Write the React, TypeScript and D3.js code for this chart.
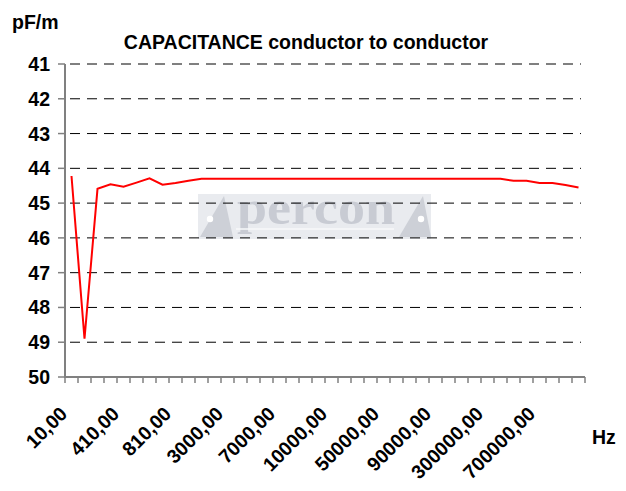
import React from "react";
import * as d3 from "d3";

// Frequency categories (Hz)
const frequencyHz = [
  10, 110, 210, 310, 410, 510, 610, 710, 810, 910,
  1000, 2000, 3000, 4000, 5000, 6000, 7000, 8000, 9000, 10000,
  10000, 20000, 30000, 40000, 50000, 60000, 70000, 80000, 90000, 100000,
  100000, 200000, 300000, 400000, 500000, 600000, 700000, 800000, 900000, 1000000,
];

// Capacitance conductor to conductor (pF/m)
const capacitancePFm = [
  44.22, 48.9, 44.59, 44.46, 44.53, 44.41, 44.29, 44.47, 44.42, 44.36,
  44.3, 44.3, 44.3, 44.3, 44.3, 44.3, 44.3, 44.3, 44.3, 44.3,
  44.3, 44.3, 44.3, 44.3, 44.3, 44.3, 44.3, 44.3, 44.3, 44.3,
  44.3, 44.3, 44.3, 44.3, 44.36, 44.36, 44.42, 44.42, 44.48, 44.55,
];

const yTickValues = [41, 42, 43, 44, 45, 46, 47, 48, 49, 50];
const xLabelEvery = 4;

const W = 626;
const H = 491;
const FONT = "'Liberation Sans', Arial, Helvetica, sans-serif";

export default function App() {
  const left = 65;
  const right = 585;
  const top = 64;
  const bottom = 377;

  const idx = frequencyHz.map((_, i) => i);
  const x = d3.scaleBand<number>().domain(idx).range([left, right]).padding(0);
  const y = d3.scaleLinear().domain([41, 50]).range([top, bottom]);
  const bw = x.bandwidth();

  const line = d3
    .line<number>()
    .x((_, i) => (x(i) as number) + bw / 2)
    .y((d) => y(d));

  const fmt = (v: number) => v.toFixed(2).replace(".", ",");

  const tickXs = idx.map((i) => x(i) as number).concat([right]);

  return (
    <svg
      width={W}
      height={H}
      style={{ position: "absolute", left: 0, top: 0, background: "#fff" }}
      fontFamily={FONT}
    >
      <rect x={0} y={0} width={W} height={H} fill="#fff" />

      {/* watermark */}
      <g>
        <rect x={198} y={194} width={233} height={45} fill="#e9ebef" />
        <polygon points="200,237 224,196 233,237" fill="#cdd0d7" />
        <circle cx={210} cy={219} r={3.2} fill="#fff" />
        <polygon points="399,237 423,196 431,237" fill="#cdd0d7" />
        <circle cx={421} cy={219} r={3.2} fill="#fff" />
        <text
          x={237}
          y={224}
          fontFamily="'Liberation Serif', 'Times New Roman', serif"
          fontWeight="bold"
          fontSize={48}
          textLength={158}
          lengthAdjust="spacingAndGlyphs"
          fill="#c8cbd3"
        >
          percon
        </text>
        <line x1={236} x2={394} y1={229} y2={229} stroke="#f7f8fa" strokeWidth={1.5} />
      </g>

      {/* gridlines */}
      {yTickValues
        .filter((v) => v !== 50)
        .map((v) => (
          <line
            key={"g" + v}
            x1={left}
            x2={right - 4}
            y1={y(v)}
            y2={y(v)}
            stroke="#000"
            strokeWidth={1}
            strokeDasharray="10 7"
            strokeDashoffset={-5}
          />
        ))}

      {/* axes */}
      <line x1={left} x2={left} y1={top} y2={bottom} stroke="#808080" strokeWidth={2} />
      <line x1={left - 1} x2={right} y1={bottom} y2={bottom} stroke="#808080" strokeWidth={2} />
      {yTickValues.map((v) => (
        <line key={"yt" + v} x1={left - 7} x2={left} y1={y(v)} y2={y(v)} stroke="#808080" strokeWidth={1.5} />
      ))}
      {tickXs.map((tx, i) => (
        <line key={"xt" + i} x1={tx} x2={tx} y1={bottom} y2={bottom + 6} stroke="#808080" strokeWidth={1.5} />
      ))}

      {/* y labels */}
      {yTickValues.map((v) => (
        <text
          key={"yl" + v}
          x={50}
          y={y(v) + 7}
          textAnchor="end"
          fontSize={19.5}
          fontWeight="bold"
          fill="#000"
        >
          {v}
        </text>
      ))}

      {/* x labels */}
      {frequencyHz.map((f, i) =>
        i % xLabelEvery === 0 ? (
          <text
            key={"xl" + i}
            transform={`translate(${(x(i) as number) + bw / 2 - 3},415) rotate(-45)`}
            textAnchor="end"
            fontSize={19.5}
            fontWeight="bold"
            fill="#000"
          >
            {fmt(f)}
          </text>
        ) : null
      )}

      {/* series */}
      <path d={line(capacitancePFm) || ""} fill="none" stroke="#ff0000" strokeWidth={2} strokeLinejoin="miter" />

      {/* titles */}
      <text x={306} y={49} textAnchor="middle" fontSize={19.5} fontWeight="bold" fill="#000">
        CAPACITANCE conductor to conductor
      </text>
      <text x={12} y={29} fontSize={19.5} fontWeight="bold" fill="#000">
        pF/m
      </text>
      <text x={592} y={444} fontSize={19.5} fontWeight="bold" fill="#000">
        Hz
      </text>
    </svg>
  );
}
